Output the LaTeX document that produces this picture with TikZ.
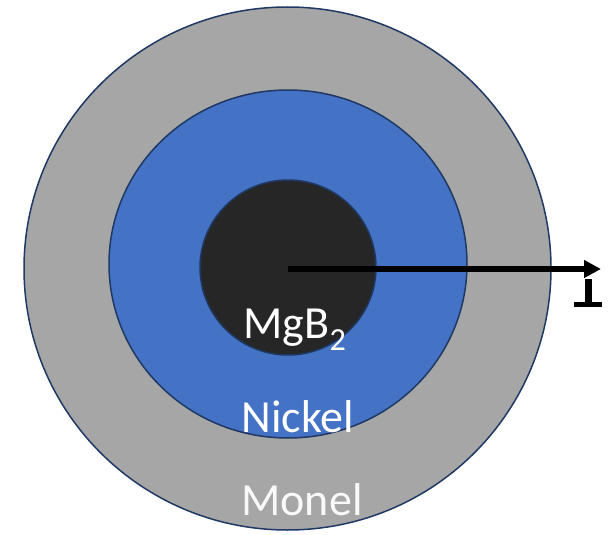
\documentclass[tikz,border=0pt]{standalone}
\usepackage{fontspec}
\setmainfont{Carlito}
\usetikzlibrary{arrows.meta}
\definecolor{monel}{HTML}{A6A6A6}
\definecolor{nickel}{HTML}{4472C4}
\definecolor{core}{HTML}{262626}
\definecolor{edge}{HTML}{1F3864}
\begin{document}
\begin{tikzpicture}[x=1pt,y=-1pt,
  layer/.style={draw=edge,line width=1.5pt},
  lbl/.style={text=white,font=\fontsize{46}{50}\selectfont,anchor=base,inner sep=0pt}]
\useasboundingbox (0,0) rectangle (608,535);
\fill[white] (0,0) rectangle (608,535);
\draw[layer,fill=monel] (287.5,268.5) ellipse [x radius=263.5,y radius=261.5];
\draw[layer,fill=nickel] (288,264) ellipse [x radius=179,y radius=174];
\draw[layer,fill=core] (288,267.5) ellipse [x radius=88,y radius=87.5];
\coordinate (c) at (288,269);
\coordinate (tip) at (601,269);
\draw[line width=5.5pt,-{Triangle[length=17pt,width=17pt]}] (c) -- (tip);
\coordinate (s1) at (588.5,279);
\coordinate (s2) at (588.5,303);
\coordinate (b1) at (574,304.5);
\coordinate (b2) at (602,304.5);
\draw[line width=6.5pt] (s1) -- (s2);
\draw[line width=5pt] (b1) -- (b2);
\node[lbl] (mgb) at (295,338) {MgB\textsubscript{2}};
\node[lbl] (ni) at (298,432) {Nickel};
\node[lbl,text=white!95!gray] (mo) at (302,515) {Monel};
\end{tikzpicture}
\end{document}
